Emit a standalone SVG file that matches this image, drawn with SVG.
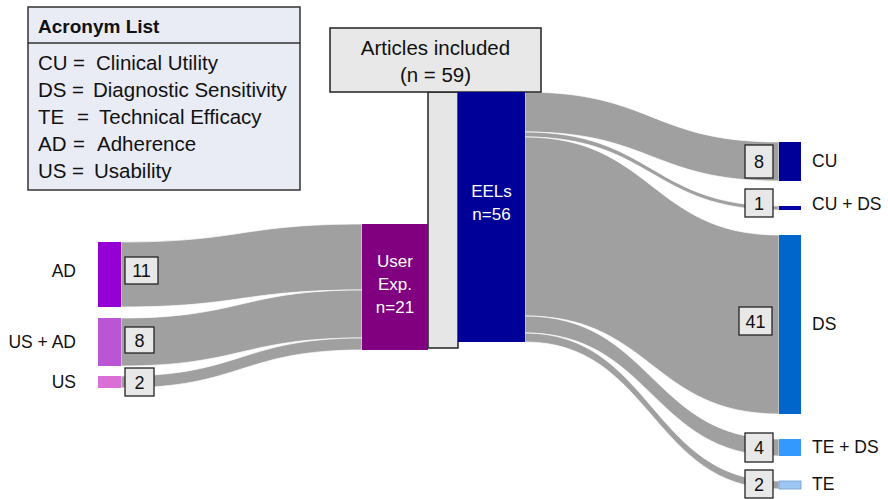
<svg xmlns="http://www.w3.org/2000/svg" width="888" height="499" viewBox="0 0 888 499">
<style>
text{font-family:"Liberation Sans",Arial,sans-serif;fill:#111}
.lst{font-size:20.5px}
.hdr{font-size:19px;font-weight:bold}
.ttl{font-size:20.5px;text-anchor:middle}
.lbl{font-size:17.5px}
.num{font-size:18px;text-anchor:middle}
.wt{font-size:17px;fill:#fff;text-anchor:middle}
.flow{fill:#a0a0a0;stroke:#fff;stroke-width:0.8;stroke-opacity:0.9}
.nb{fill:#e8e8e8;stroke:#222;stroke-width:1.3}
</style>
<rect width="888" height="499" fill="#fff"/>

<g id="connectors">
  <path class="flow" d="M121,242 C241.5,242 241.5,224 362,224 L362,290 C241.5,290 241.5,307 121,307 Z"/>
  <path class="flow" d="M121,318 C241.5,318 241.5,290 362,290 L362,338 C241.5,338 241.5,366 121,366 Z"/>
  <path class="flow" d="M121,376 C241.5,376 241.5,338 362,338 L362,350 C241.5,350 241.5,388 121,388 Z"/>
  <path class="flow" d="M525,92 C652,92 652,142 779,142 L779,181 C652,181 652,132 525,132 Z"/>
  <path class="flow" d="M525,132 C652,132 652,206 779,206 L779,210 C652,210 652,137 525,137 Z"/>
  <path class="flow" d="M525,137 C652,137 652,235 779,235 L779,414 C652,414 652,316 525,316 Z"/>
  <path class="flow" d="M525,316 C652,316 652,439 779,439 L779,456 C652,456 652,333 525,333 Z"/>
  <path class="flow" d="M525,333 C652,333 652,481 779,481 L779,489 C652,489 652,342 525,342 Z"/>
</g>

<g id="acronym-list">
  <rect x="28" y="7" width="272" height="183" fill="#e9ebf5" stroke="#333" stroke-width="1.5"/>
  <line x1="28" y1="43" x2="300" y2="43" stroke="#333" stroke-width="1.5"/>
  <text class="hdr" x="38" y="33">Acronym List</text>
  <text class="lst" y="70"><tspan x="38">CU</tspan><tspan x="73">=</tspan><tspan x="96">Clinical Utility</tspan></text>
  <text class="lst" y="97"><tspan x="38">DS</tspan><tspan x="72">=</tspan><tspan x="93">Diagnostic Sensitivity</tspan></text>
  <text class="lst" y="124"><tspan x="38">TE</tspan><tspan x="77">=</tspan><tspan x="99">Technical Efficacy</tspan></text>
  <text class="lst" y="151"><tspan x="38">AD</tspan><tspan x="73">=</tspan><tspan x="97">Adherence</tspan></text>
  <text class="lst" y="178"><tspan x="38">US</tspan><tspan x="72">=</tspan><tspan x="94">Usability</tspan></text>
</g>

<g id="articles-included">
  <rect x="428" y="92" width="30" height="256" fill="#e6e6e6" stroke="#222" stroke-width="1.5"/>
  <rect x="330" y="28" width="211" height="64" fill="#e8e8e8" stroke="#222" stroke-width="1.5"/>
  <text class="ttl" x="435.5" y="55">Articles included</text>
  <text class="ttl" x="435.5" y="82">(n = 59)</text>
</g>

<g id="user-exp">
  <rect x="362" y="224" width="66" height="126" fill="#800080"/>
  <text class="wt" x="395" y="267">User</text>
  <text class="wt" x="395" y="290">Exp.</text>
  <text class="wt" x="395" y="313">n=21</text>
</g>

<g id="eels">
  <rect x="458" y="92" width="67" height="250" fill="#000099"/>
  <text class="wt" x="491.5" y="197">EELs</text>
  <text class="wt" x="491.5" y="220">n=56</text>
</g>

<g id="ad">
  <rect x="98" y="242" width="23" height="65" fill="#9400d3"/>
  <text class="lbl" x="76" y="277" text-anchor="end">AD</text>
  <rect class="nb" x="125" y="257" width="33" height="27"/>
  <text class="num" x="141.5" y="277">11</text>
</g>
<g id="us-ad">
  <rect x="98" y="318" width="23" height="48" fill="#ba55d3"/>
  <text class="lbl" x="76" y="348" text-anchor="end">US + AD</text>
  <rect class="nb" x="125" y="327" width="29" height="26"/>
  <text class="num" x="139.5" y="346.5">8</text>
</g>
<g id="us">
  <rect x="98" y="376" width="23" height="12" fill="#da70d6"/>
  <text class="lbl" x="76" y="388" text-anchor="end">US</text>
  <rect class="nb" x="125" y="368" width="29" height="28"/>
  <text class="num" x="139.5" y="388.5">2</text>
</g>

<g id="cu">
  <rect x="779" y="142" width="22" height="39" fill="#000099"/>
  <text class="lbl" x="812" y="167">CU</text>
  <rect class="nb" x="745" y="145" width="28" height="33"/>
  <text class="num" x="759" y="168">8</text>
</g>
<g id="cu-ds">
  <rect x="779" y="206" width="22" height="4" fill="#0000aa"/>
  <text class="lbl" x="812" y="210">CU + DS</text>
  <rect class="nb" x="745" y="189" width="28" height="28"/>
  <text class="num" x="759" y="209.5">1</text>
</g>
<g id="ds">
  <rect x="779" y="235" width="22" height="179" fill="#0066cc"/>
  <text class="lbl" x="812" y="330">DS</text>
  <rect class="nb" x="739" y="307" width="33" height="28"/>
  <text class="num" x="755.5" y="327.5">41</text>
</g>
<g id="te-ds">
  <rect x="779" y="439" width="22" height="17" fill="#3399ff"/>
  <text class="lbl" x="812" y="453">TE + DS</text>
  <rect class="nb" x="745" y="433" width="28" height="29"/>
  <text class="num" x="759" y="454">4</text>
</g>
<g id="te">
  <rect x="779" y="481" width="22" height="8" fill="#9dc6f5" stroke="#6f9ccc" stroke-width="0.8"/>
  <text class="lbl" x="812" y="490">TE</text>
  <rect class="nb" x="745" y="470" width="28" height="28"/>
  <text class="num" x="759" y="490.5">2</text>
</g>
</svg>
